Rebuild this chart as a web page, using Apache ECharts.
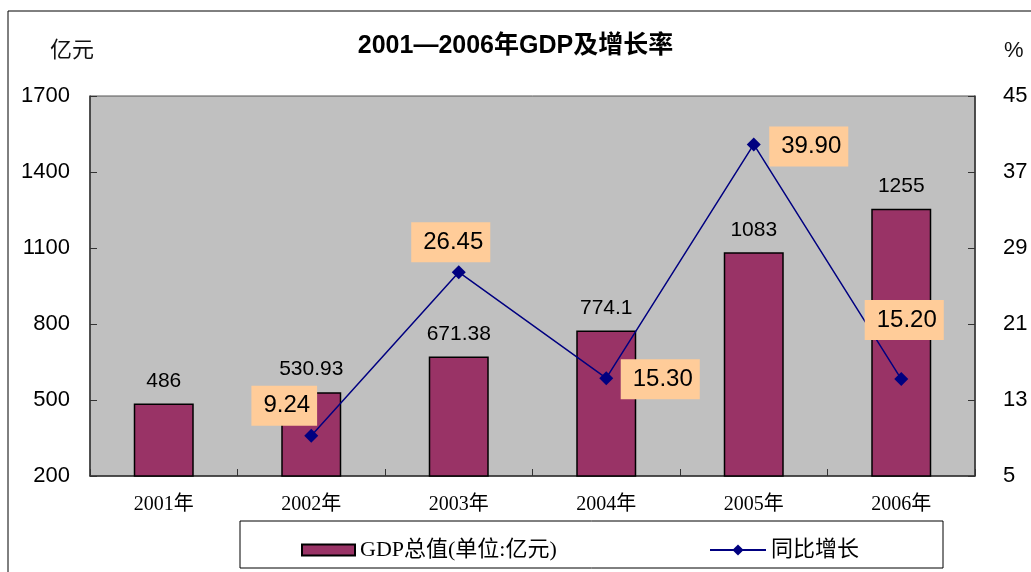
<!DOCTYPE html>
<html>
<head>
<meta charset="utf-8">
<script src="https://cdn.jsdelivr.net/npm/echarts@6/dist/echarts.min.js"></script>
<style>
    html, body { margin: 0; padding: 0; background: #fff; }
    #chart { width: 1031px; height: 572px; }
</style>
</head>
<body>
<div id="chart"></div>
<script>
// 数据
const years = ['2001年', '2002年', '2003年', '2004年', '2005年', '2006年']
const gdpValues = [486, 530.93, 671.38, 774.1, 1083, 1255]
const gdpLabels = ['486', '530.93', '671.38', '774.1', '1083', '1255']
const growthValues = [null, 9.24, 26.45, 15.30, 39.90, 15.20]
const growthLabels = ['', '9.24', '26.45', '15.30', '39.90', '15.20']
const leftTicks = [200, 1700, 300]
const rightTicks = [5, 45, 8]

// 折线标签偏移 (相对于数据点)
const growthLabelOffsets = [null, [-27, -30], [-8, -30], [54, 1], [55, 2], [3, -59]]

const sans = '"Liberation Sans", Arial, "Noto Sans CJK SC", sans-serif'
const serif = '"Liberation Serif", "Noto Sans CJK SC", serif'

const chart = echarts.init(document.getElementById('chart'))

const option = {
    animation: false,
    backgroundColor: '#fff',
    title: {
        text: '2001—2006年GDP及增长率',
        left: 'center',
        top: 29,
        textStyle: {
            fontFamily: sans,
            fontSize: 25,
            fontWeight: 'bold',
            color: '#000'
        }
    },
    graphic: [
        {
            type: 'rect',
            shape: { x: 8, y: 11, width: 1200, height: 700 },
            style: { fill: 'none', stroke: '#000', lineWidth: 1 },
            silent: true,
            z: -1
        },
        {
            type: 'rect',
            shape: { x: 240, y: 521, width: 703, height: 47 },
            style: { fill: '#fff', stroke: '#000', lineWidth: 1 },
            silent: true,
            z: -1
        },
        {
            type: 'text',
            left: 50,
            top: 40,
            style: { text: '亿元', fontSize: 22, fontFamily: sans, fill: '#111' }
        },
        {
            type: 'text',
            left: 1004,
            top: 40,
            style: { text: '%', fontSize: 22, fontFamily: sans, fill: '#111' }
        }
    ],
    legend: [
        {
            left: 296,
            top: 534,
            itemWidth: 53,
            itemHeight: 11,
            itemGap: 8,
            textStyle: { fontFamily: serif, fontSize: 22, color: '#000' },
            data: [{ name: 'GDP总值(单位:亿元)', icon: 'rect' }]
        },
        {
            left: 704,
            top: 534,
            itemWidth: 56,
            itemHeight: 14,
            textStyle: { fontFamily: serif, fontSize: 22, color: '#000' },
            data: [{ name: '同比增长' }]
        }
    ],
    grid: {
        left: 90,
        right: 56,
        top: 96,
        bottom: 96,
        show: true,
        backgroundColor: '#c0c0c0',
        borderColor: '#555',
        borderWidth: 1
    },
    xAxis: {
        type: 'category',
        data: years,
        boundaryGap: true,
        axisLine: { lineStyle: { color: '#333', width: 1.5 } },
        axisTick: { show: true, inside: true, length: 7, alignWithLabel: false, lineStyle: { color: '#333' } },
        axisLabel: { margin: 19, fontFamily: serif, fontSize: 20, color: '#000' }
    },
    yAxis: [
        {
            type: 'value',
            min: leftTicks[0],
            max: leftTicks[1],
            interval: leftTicks[2],
            splitLine: { show: false },
            axisLine: { show: true, lineStyle: { color: '#333', width: 1.5 } },
            axisTick: { show: true, inside: true, length: 7, lineStyle: { color: '#333' } },
            axisLabel: { margin: 20, fontFamily: sans, fontSize: 22, color: '#000', formatter: v => String(v) }
        },
        {
            type: 'value',
            min: rightTicks[0],
            max: rightTicks[1],
            interval: rightTicks[2],
            splitLine: { show: false },
            axisLine: { show: true, lineStyle: { color: '#333', width: 1.5 } },
            axisTick: { show: true, inside: true, length: 7, lineStyle: { color: '#333' } },
            axisLabel: { margin: 28, fontFamily: sans, fontSize: 22, color: '#000', formatter: v => String(v) }
        }
    ],
    series: [
        {
            name: 'GDP总值(单位:亿元)',
            type: 'bar',
            yAxisIndex: 0,
            barWidth: 60,
            data: gdpValues,
            itemStyle: { color: '#993366', borderColor: '#000', borderWidth: 1.5 },
            label: {
                show: true,
                position: 'top',
                distance: 12,
                fontFamily: sans,
                fontSize: 21,
                color: '#000',
                formatter: p => gdpLabels[p.dataIndex]
            }
        },
        {
            name: '同比增长',
            type: 'line',
            yAxisIndex: 1,
            connectNulls: false,
            symbol: 'diamond',
            symbolSize: 14,
            data: growthValues.map((v, i) => ({
                value: v,
                label: growthLabelOffsets[i] ? { offset: growthLabelOffsets[i] } : {}
            })),
            lineStyle: { color: '#000080', width: 1.5 },
            itemStyle: { color: '#000080' },
            label: {
                show: true,
                position: 'inside',
                fontFamily: sans,
                fontSize: 24,
                color: '#000',
                backgroundColor: '#ffcc99',
                padding: [8, 7, 8, 12],
                formatter: p => growthLabels[p.dataIndex]
            },
            z: 3
        }
    ]
}

chart.setOption(option)
</script>
</body>
</html>
